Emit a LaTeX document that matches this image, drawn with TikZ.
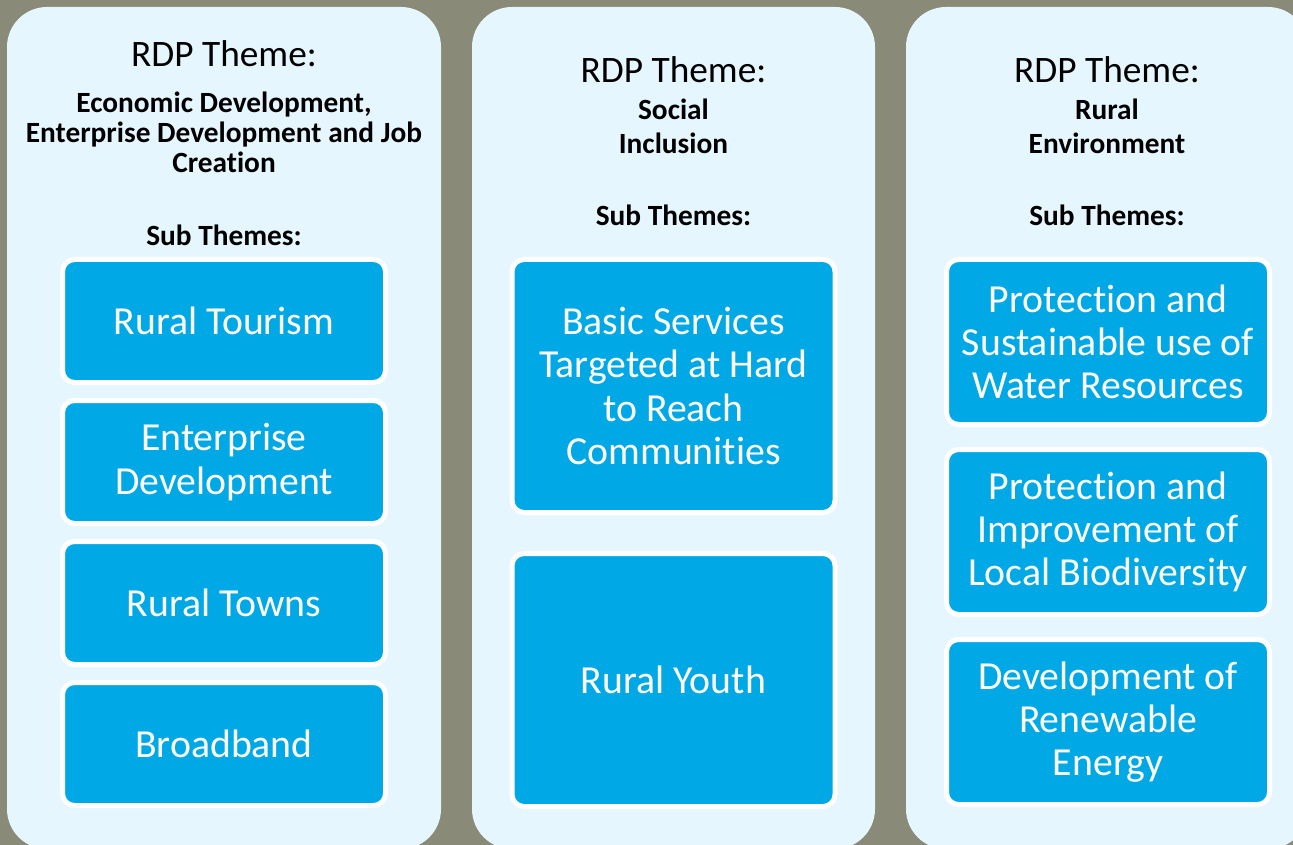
\documentclass[tikz,border=0pt]{standalone}
\usepackage{fontspec}
\setmainfont{Carlito}[Ligatures=NoCommon]
\usetikzlibrary{positioning}

\definecolor{bgolive}{RGB}{137,138,120}
\definecolor{panelblue}{RGB}{230,246,255}
\definecolor{subblue}{RGB}{0,169,230}

\begin{document}
\begin{tikzpicture}[
    x=0.75pt, y=-0.75pt,
    panel/.style = {fill=panelblue, minimum height=631.5pt, rounded corners=30pt, inner sep=0pt, outer sep=0pt},
    theme/.style = {font=\fontsize{28}{33}\selectfont, inner sep=0pt},
    headname/.style = {font=\bfseries\fontsize{22}{22.5}\selectfont, align=center, inner sep=0pt},
    subhead/.style = {font=\bfseries\fontsize{22}{24}\selectfont, inner sep=0pt},
    box/.style = {fill=subblue, draw=white, line width=3.75pt, rounded corners=9pt, minimum width=242.25pt,
                  outer sep=0pt, inner sep=0pt, text=white, align=center, font=\fontsize{29.8}{32.3}\selectfont}
]
\useasboundingbox (0,0) rectangle (1293,845);
\fill[bgolive] (0,0) rectangle (1293,845);

% panels
\node (econ) [panel, minimum width=325.5pt] at (224,428) {};
\node (social) [panel, minimum width=302.25pt] at (673.5,428) {};
\node (rural) [panel, minimum width=301.5pt] at (1107,428) {};

% economic development
\node (econT) [theme] at (224,54) {RDP Theme:};
\node (econN) [headname] at (224,132) {Economic Development,\\Enterprise Development and Job\\Creation};
\node (econS) [subhead] at (224,235) {Sub Themes:};
\node (tour) [box, minimum height=92.25pt] at (224,321) {Rural Tourism};
\node (ent) [box, minimum height=92.25pt, below=13.5pt of tour] {Enterprise\\Development};
\node (towns) [box, minimum height=92.25pt, below=13.5pt of ent] {Rural Towns};
\node (bband) [box, minimum height=92.25pt, below=13.5pt of towns] {Broadband};

% social inclusion
\node (socT) [theme] at (673.5,70) {RDP Theme:};
\node (socN) [headname, font=\bfseries\fontsize{22}{25.5}\selectfont] at (673.5,126) {Social\\Inclusion};
\node (socS) [subhead] at (673.5,215) {Sub Themes:};
\node (basic) [box, minimum height=189.75pt] at (673.5,386) {Basic Services\\Targeted at Hard\\to Reach\\Communities};
\node (youth) [box, minimum height=189.75pt, below=30.75pt of basic] {Rural Youth};

% rural environment
\node (envT) [theme] at (1107,70) {RDP Theme:};
\node (envN) [headname, font=\bfseries\fontsize{22}{25.5}\selectfont] at (1107,126) {Rural\\Environment};
\node (envS) [subhead] at (1107,215) {Sub Themes:};
\node (water) [box, minimum height=123.75pt] at (1108,342) {Protection and\\Sustainable use of\\Water Resources};
\node (bio) [box, minimum height=123.75pt, below=18.75pt of water] {Protection and\\Improvement of\\Local Biodiversity};
\node (energy) [box, minimum height=123.75pt, below=18.75pt of bio] {Development of\\Renewable\\Energy};
\end{tikzpicture}
\end{document}
